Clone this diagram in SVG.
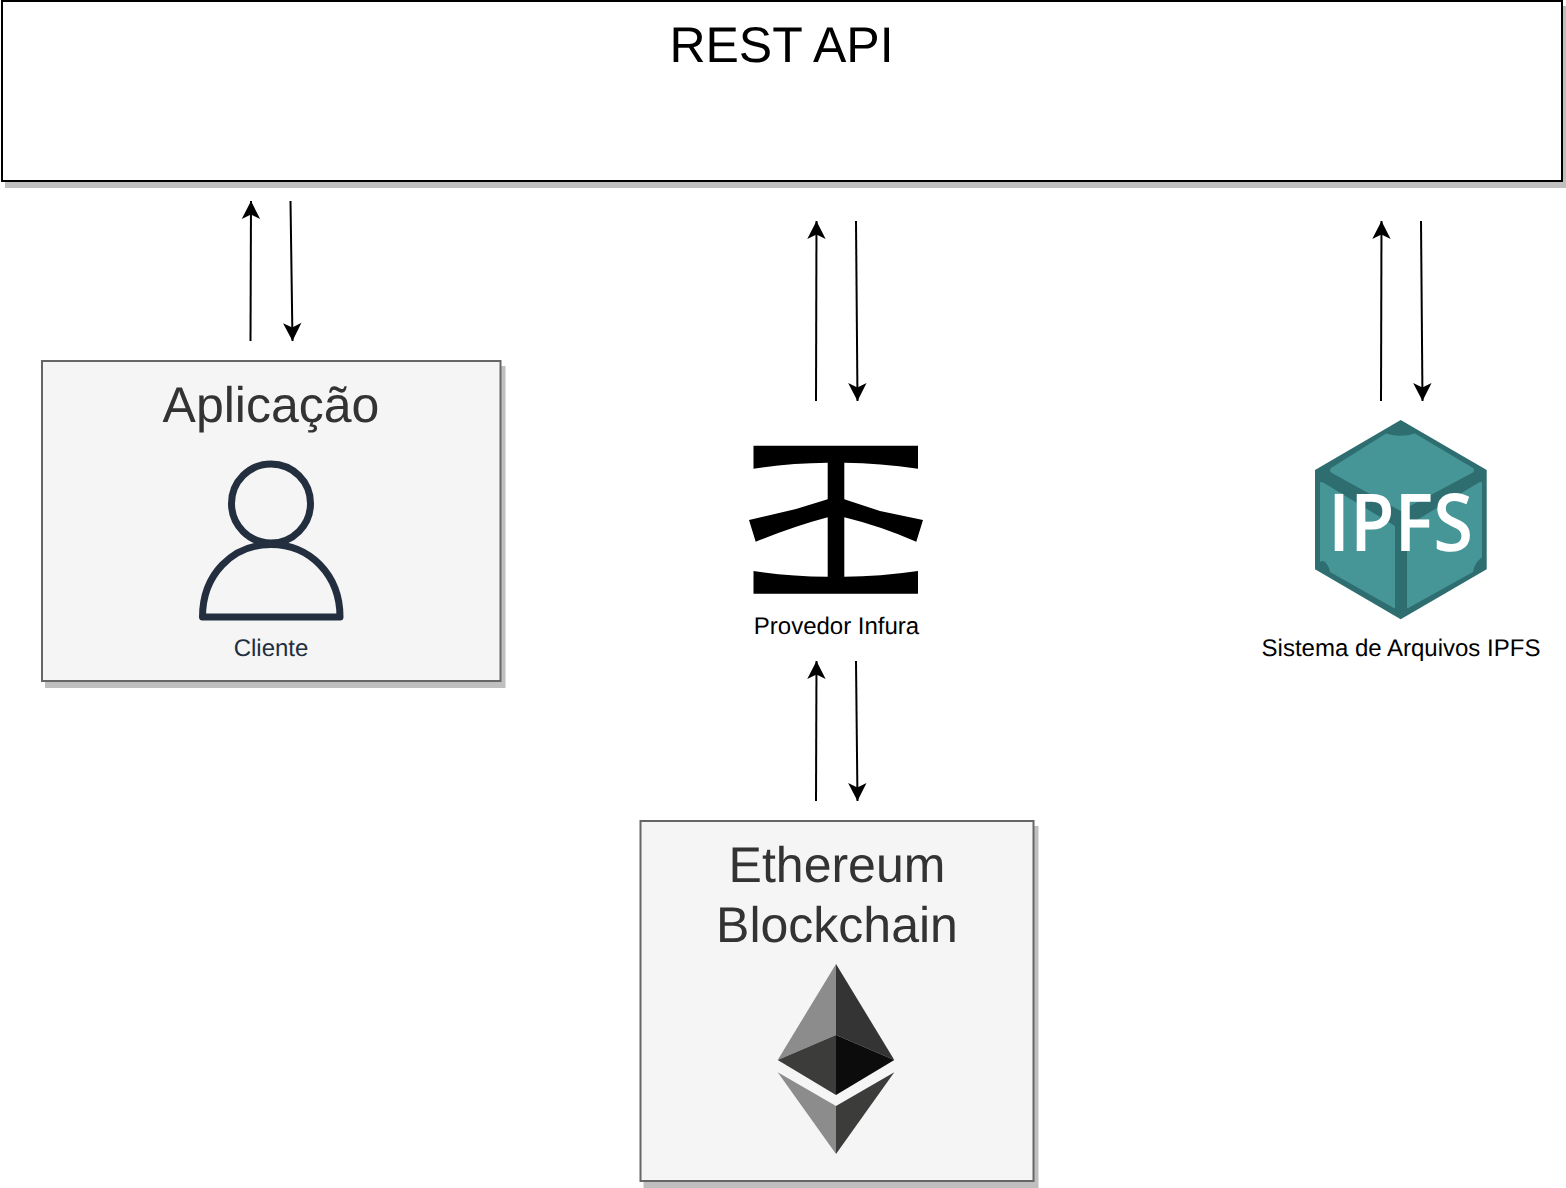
<svg xmlns="http://www.w3.org/2000/svg" width="1566" height="1188" viewBox="0 0 1566 1188">
<style>
text{text-rendering:geometricPrecision}
.box{stroke-width:2}
.shadow{fill:#bfbfbf}
.big{font-family:"Liberation Sans",Arial,sans-serif;font-size:50px;text-anchor:middle}
.big2{font-family:"Liberation Sans",Arial,sans-serif;font-size:50px;text-anchor:middle;fill:#333333}
.small{font-family:"Liberation Sans",Arial,sans-serif;font-size:24px;text-anchor:middle}
.conn{fill:none;stroke:#000;stroke-width:2;marker-end:url(#arrow)}
</style>
<defs>
<marker id="arrow" markerUnits="userSpaceOnUse" markerWidth="24" markerHeight="24" refX="20" refY="12" orient="auto">
<path d="M20 12 L2 2.800 L6.500 12 L2 21.200 Z" fill="#000"/>
</marker>
</defs>
<rect width="1566" height="1188" fill="#fff"/>
<g id="rest-api">
<rect class="shadow" x="5" y="6" width="1562" height="182"/>
<rect class="box" x="2" y="1" width="1560" height="180" fill="#fff" stroke="#000"/>
<text class="big" x="781.500" y="62">REST API</text>
</g>
<g id="aplicacao">
<rect class="shadow" x="45" y="366" width="460.500" height="322"/>
<rect class="box" x="42" y="361" width="458.500" height="320" fill="#f5f5f5" stroke="#666666"/>
<text class="big2" x="271" y="422">Aplicação</text>
<g fill="none" stroke="#232f3e" stroke-width="7" stroke-linejoin="round">
<circle cx="271" cy="503.500" r="39.500"/>
<path d="M202.500 617 C202.500 575 232 544.500 271 544.500 C310 544.500 340 575 340 617 Z"/>
</g>
<text class="small" x="271" y="656" fill="#232f3e">Cliente</text>
</g>
<g id="infura">
<path fill="#000" d="M753.500 445.700H918V468.700Q880 463 844.300 462.700V499.300L880 511L923 520L916.300 541.700Q880 526 844.300 517.300V576.700Q880 576.500 918 571V593.700H753.500V571Q790 576.500 827.700 576.700V517.300Q795 526 755.700 541.700L749 520L796 509L827.700 499.300V462.700Q790 463 753.500 468.700Z"/>
<text class="small" x="836.500" y="634" fill="#000">Provedor Infura</text>
</g>
<g id="ipfs">
<path fill="#2f6e70" d="M1400.700 420L1486.700 470V569.300L1400.700 619.300L1315 569.300V470Z"/>
<path fill="#469597" d="M1386 433.500Q1400.700 438 1415 433.500L1473 468Q1475 470 1473 472.500L1400.700 511L1331 472.500Q1329 470 1331 468Z"/>
<path fill="#469597" d="M1320 483Q1320 481 1324 483L1395 526V608Q1395 609 1392 607L1330 572Q1329 566 1325 562Q1322 560 1320 562Z"/>
<path fill="#469597" d="M1482 483Q1482 481 1478 483L1407 526V608Q1407 609 1410 607L1473 572Q1474 566 1477 562Q1480 559 1482 557Z"/>
<text x="1400.500" y="551" text-anchor="middle" font-family="'Open Sans',sans-serif" font-size="80px" fill="#fff" font-weight="600" textLength="145" lengthAdjust="spacingAndGlyphs">IPFS</text>
<text class="small" x="1401" y="656" fill="#000">Sistema de Arquivos IPFS</text>
</g>
<g id="ethereum">
<rect class="shadow" x="643.500" y="826" width="395" height="362"/>
<rect class="box" x="640.500" y="821" width="393" height="360" fill="#f5f5f5" stroke="#666666"/>
<text class="big2" x="837" y="882">Ethereum</text>
<text class="big2" x="837" y="942">Blockchain</text>
<path fill="#8c8c8c" d="M836 964L777.700 1060L836 1035Z"/>
<path fill="#343434" d="M836 964L894.300 1060L836 1035Z"/>
<path fill="#3c3c3b" d="M777.700 1060L836 1035V1095Z"/>
<path fill="#0c0c0c" d="M894.300 1060L836 1035V1095Z"/>
<path fill="#8c8c8c" d="M777.700 1072.300L836 1106V1154Z"/>
<path fill="#3c3c3b" d="M894.300 1072.300L836 1106V1154Z"/>
</g>
<g id="connectors">
<path class="conn" d="M250.500 341L251 201"/>
<path class="conn" d="M290.500 201L292.500 341"/>
<path class="conn" d="M816 401L816.500 221"/>
<path class="conn" d="M856 221L857.500 401"/>
<path class="conn" d="M1381 401L1381.500 221"/>
<path class="conn" d="M1421 221L1422.500 401"/>
<path class="conn" d="M816 801L816.500 661"/>
<path class="conn" d="M856 661L857.500 801"/>
</g>
</svg>
